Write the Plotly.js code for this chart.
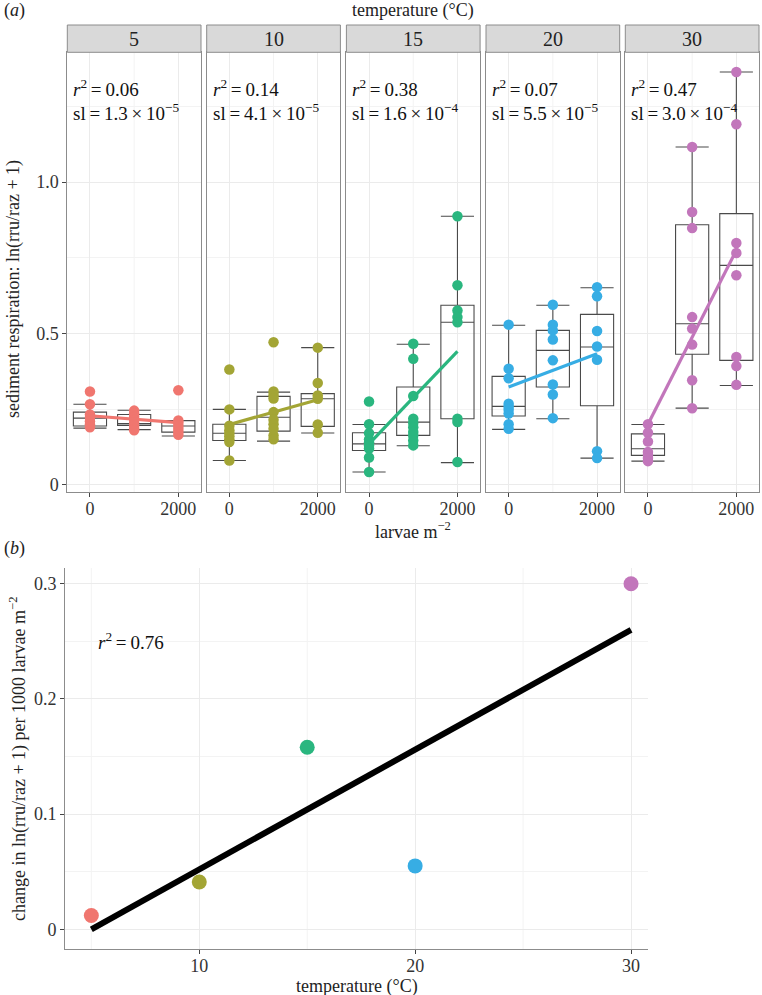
<!DOCTYPE html>
<html>
<head>
<meta charset="utf-8">
<script src="https://cdn.plot.ly/plotly-3.0.1.min.js"></script>
<style>
  body { margin: 0; background: #fff; }
  #chart { width: 762px; height: 995px; }
</style>
</head>
<body>
<div id="chart"></div>
<script>
// panel (a): temperature facets, larvae density on x
const temps = [5, 10, 15, 20, 30];
const larvae = [0, 1000, 2000];

// points, one list per larvae density
const resp5 = [
    [0.308, 0.266, 0.232, 0.222, 0.21, 0.2, 0.19],
    [0.245, 0.235, 0.225, 0.215, 0.205, 0.195, 0.185, 0.18],
    [0.312, 0.212, 0.205, 0.195, 0.185, 0.175, 0.165]
];
const resp10 = [
    [0.381, 0.249, 0.195, 0.18, 0.17, 0.16, 0.15, 0.141, 0.08],
    [0.471, 0.308, 0.296, 0.285, 0.24, 0.215, 0.2, 0.185, 0.163, 0.15],
    [0.453, 0.336, 0.295, 0.284, 0.199, 0.172]
];
const resp15 = [
    [0.275, 0.2, 0.17, 0.15, 0.14, 0.13, 0.12, 0.09, 0.042],
    [0.466, 0.416, 0.293, 0.218, 0.204, 0.19, 0.174, 0.163, 0.146, 0.13],
    [0.887, 0.659, 0.576, 0.554, 0.537, 0.218, 0.207, 0.075]
];
const resp20 = [
    [0.529, 0.383, 0.352, 0.268, 0.258, 0.248, 0.235, 0.2, 0.185],
    [0.595, 0.529, 0.51, 0.48, 0.411, 0.331, 0.298, 0.22],
    [0.653, 0.623, 0.508, 0.457, 0.413, 0.111, 0.088]
];
const resp30 = [
    [0.2, 0.172, 0.143, 0.108, 0.098, 0.088, 0.078],
    [1.116, 0.901, 0.848, 0.554, 0.516, 0.463, 0.345, 0.253],
    [1.364, 1.191, 0.799, 0.766, 0.692, 0.422, 0.392, 0.33]
];

// box stats per facet (0, 1000, 2000)
const boxLow = [[0.187, 0.182, 0.161], [0.08, 0.144, 0.171], [0.042, 0.129, 0.073], [0.183, 0.218, 0.088], [0.078, 0.253, 0.328]];
const boxQ1 = [[0.194, 0.196, 0.174], [0.146, 0.177, 0.193], [0.113, 0.163, 0.218], [0.227, 0.323, 0.261], [0.097, 0.431, 0.411]];
const boxMed = [[0.22, 0.202, 0.194], [0.17, 0.223, 0.284], [0.135, 0.207, 0.537], [0.259, 0.444, 0.455], [0.119, 0.532, 0.725]];
const boxQ3 = [[0.24, 0.232, 0.212], [0.2, 0.292, 0.301], [0.172, 0.323, 0.593], [0.358, 0.51, 0.563], [0.168, 0.859, 0.896]];
const boxHigh = [[0.266, 0.246, 0.212], [0.249, 0.306, 0.453], [0.199, 0.464, 0.887], [0.527, 0.593, 0.651], [0.199, 1.116, 1.364]];

// fitted lines, value at 0 and at 2000 larvae
const fitStart = [0.228, 0.199, 0.135, 0.323, 0.2];
const fitEnd = [0.205, 0.281, 0.441, 0.433, 0.775];
const r2Labels = ['0.06', '0.14', '0.38', '0.07', '0.47'];
const slMantissa = ['1.3', '4.1', '1.6', '5.5', '3.0'];
const slExponent = ['\u22125', '\u22125', '\u22124', '\u22125', '\u22124'];

// panel (b): slope vs temperature
const rateChange = [0.012, 0.041, 0.158, 0.055, 0.3];
const fitTemps = [5, 30];
const fitRate = [0, 0.26];

const colors = ['#F0766F', '#A3A535', '#2AB67F', '#37ADE4', '#C276BB'];
const respAll = [resp5, resp10, resp15, resp20, resp30];

const W = 762, H = 995;
const serif = '"Liberation Serif", "Times New Roman", serif';
const px = v => v / W;
const py = v => 1 - v / H;

const facetLeft = [67.3, 206.7, 346.4, 486, 625.3];
const facetWidth = 133.7;
const panelTop = 52.3, panelBottom = 492.3, stripTop = 25;
const border = '#8c8c8c';
const minorGrid = '#f3f3f3';
const tickFont = { family: serif, size: 18, color: '#333' };
const noteFont = { family: serif, size: 19, color: '#111' };

const data = [];
const layout = {
    width: W, height: H,
    margin: { l: 0, r: 0, t: 0, b: 0 },
    paper_bgcolor: '#fff',
    plot_bgcolor: 'rgba(0,0,0,0)',
    showlegend: false,
    font: { family: serif, color: '#222', size: 17 },
    boxmode: 'overlay',
    shapes: [],
    annotations: []
};

function vGrid(xa, ya, x) {
    layout.shapes.push({
        type: 'line', xref: xa, yref: ya + ' domain', layer: 'below',
        x0: x, x1: x, y0: 0, y1: 1,
        line: { color: minorGrid, width: 1 }
    });
}

temps.forEach((t, i) => {
    const n = i === 0 ? '' : String(i + 1);
    const xa = 'x' + n, ya = 'y' + n;

    // tick marks come from the minor ticks so labels sit close to the axis
    layout['xaxis' + n] = {
        domain: [px(facetLeft[i]), px(facetLeft[i] + facetWidth)],
        anchor: ya,
        range: [-512.5, 2512.5],
        tickvals: [0, 2000],
        ticktext: ['0', '2000'],
        ticks: '',
        tickfont: tickFont,
        showgrid: true, gridcolor: '#ebebeb', gridwidth: 1,
        minor: { tickvals: [0, 2000], ticks: 'outside', ticklen: 4, tickcolor: '#444', showgrid: false },
        zeroline: false,
        showline: true, mirror: true, linecolor: border, linewidth: 1
    };
    vGrid(xa, ya, 1000);
    layout['yaxis' + n] = {
        domain: [py(panelBottom), py(panelTop)],
        anchor: xa,
        range: [-0.025, 1.429],
        tickvals: [0, 0.5, 1],
        ticktext: ['0', '0.5', '1.0'],
        ticks: i === 0 ? 'outside' : '', ticklen: 4, tickcolor: '#444',
        showticklabels: i === 0,
        tickfont: tickFont,
        showgrid: true, gridcolor: '#ebebeb', gridwidth: 1,
        minor: { tickvals: [0.25, 0.75, 1.25], showgrid: true, gridcolor: minorGrid, ticks: '' },
        zeroline: false,
        showline: true, mirror: true, linecolor: border, linewidth: 1
    };

    data.push({
        type: 'box', xaxis: xa, yaxis: ya,
        x: larvae,
        lowerfence: boxLow[i], q1: boxQ1[i], median: boxMed[i], q3: boxQ3[i], upperfence: boxHigh[i],
        width: 750, whiskerwidth: 1,
        boxpoints: false,
        fillcolor: 'rgba(255,255,255,0)',
        line: { color: '#4a4a4a', width: 1.1 },
        hoverinfo: 'skip'
    });

    const xs = [], ys = [];
    respAll[i].forEach((vals, j) => {
        vals.forEach(v => { xs.push(larvae[j]); ys.push(v); });
    });
    data.push({
        type: 'scatter', mode: 'markers', xaxis: xa, yaxis: ya,
        x: xs, y: ys,
        marker: { color: colors[i], size: 10.5 },
        hoverinfo: 'skip'
    });

    data.push({
        type: 'scatter', mode: 'lines', xaxis: xa, yaxis: ya,
        x: [larvae[0], larvae[2]], y: [fitStart[i], fitEnd[i]],
        line: { color: colors[i], width: 3.2 },
        hoverinfo: 'skip'
    });

    // strip header
    layout.shapes.push({
        type: 'rect', xref: 'paper', yref: 'paper',
        x0: px(facetLeft[i]), x1: px(facetLeft[i] + facetWidth),
        y0: py(panelTop), y1: py(stripTop),
        fillcolor: '#d9d9d9', line: { color: border, width: 1 }
    });
    layout.annotations.push({
        xref: 'paper', yref: 'paper',
        x: px(facetLeft[i] + facetWidth / 2), y: py((stripTop + panelTop) / 2),
        text: String(t), showarrow: false,
        font: { family: serif, size: 20, color: '#222' },
        xanchor: 'center', yanchor: 'middle'
    });

    layout.annotations.push({
        xref: 'paper', yref: 'paper',
        x: px(facetLeft[i] + 4), y: py(88),
        text: '<i>r</i><sup>2</sup>\u2009=\u2009' + r2Labels[i],
        showarrow: false, xanchor: 'left', yanchor: 'middle',
        font: noteFont
    });
    layout.annotations.push({
        xref: 'paper', yref: 'paper',
        x: px(facetLeft[i] + 4), y: py(112),
        text: 'sl\u2009=\u2009' + slMantissa[i] + '\u2009\u00d7\u200910<sup>' + slExponent[i] + '</sup>',
        showarrow: false, xanchor: 'left', yanchor: 'middle',
        font: noteFont
    });
});

// panel (b)
layout.xaxis6 = {
    domain: [px(65), px(648.3)],
    anchor: 'y6',
    range: [3.78, 30.8],
    tickvals: [10, 20, 30],
    ticks: '',
    tickfont: tickFont,
    showgrid: true, gridcolor: '#ebebeb',
    minor: { tickvals: [10, 20, 30], ticks: 'outside', ticklen: 4, tickcolor: '#444', showgrid: false },
    zeroline: false,
    showline: true, linecolor: border, linewidth: 1
};
[5, 15, 25].forEach(v => vGrid('x6', 'y6', v));
layout.yaxis6 = {
    domain: [py(949.3), py(568)],
    anchor: 'x6',
    range: [-0.0174, 0.3137],
    tickvals: [0, 0.1, 0.2, 0.3],
    ticktext: ['0', '0.1', '0.2', '0.3'],
    ticks: 'outside', ticklen: 4, tickcolor: '#444',
    tickfont: tickFont,
    showgrid: true, gridcolor: '#ebebeb',
    minor: { tickvals: [0.05, 0.15, 0.25], showgrid: true, gridcolor: minorGrid, ticks: '' },
    zeroline: false,
    showline: true, linecolor: border, linewidth: 1
};

data.push({
    type: 'scatter', mode: 'lines', xaxis: 'x6', yaxis: 'y6',
    x: fitTemps, y: fitRate,
    line: { color: '#000', width: 6 },
    hoverinfo: 'skip'
});
data.push({
    type: 'scatter', mode: 'markers', xaxis: 'x6', yaxis: 'y6',
    x: temps, y: rateChange,
    marker: { color: colors, size: 15 },
    hoverinfo: 'skip'
});

const titleFont = { family: serif, size: 18, color: '#222' };
layout.annotations.push(
    { xref: 'paper', yref: 'paper', x: px(2), y: py(11), xanchor: 'left', yanchor: 'middle',
      text: '(<i>a</i>)', showarrow: false, font: titleFont },
    { xref: 'paper', yref: 'paper', x: px(413), y: py(11), xanchor: 'center', yanchor: 'middle',
      text: 'temperature (\u00b0C)', showarrow: false, font: titleFont },
    { xref: 'paper', yref: 'paper', x: px(413), y: py(530), xanchor: 'center', yanchor: 'middle',
      text: 'larvae m<sup>\u22122</sup>', showarrow: false, font: titleFont },
    { xref: 'paper', yref: 'paper', x: px(13), y: py(289), xanchor: 'center', yanchor: 'middle',
      text: 'sediment respiration: ln(rru/raz + 1)', textangle: -90, showarrow: false, font: titleFont },
    { xref: 'paper', yref: 'paper', x: px(2), y: py(548), xanchor: 'left', yanchor: 'middle',
      text: '(<i>b</i>)', showarrow: false, font: titleFont },
    { xref: 'paper', yref: 'paper', x: px(357), y: py(986), xanchor: 'center', yanchor: 'middle',
      text: 'temperature (\u00b0C)', showarrow: false, font: titleFont },
    { xref: 'paper', yref: 'paper', x: px(18), y: py(759), xanchor: 'center', yanchor: 'middle',
      text: 'change in ln(rru/raz + 1) per 1000 larvae m<sup>\u22122</sup>', textangle: -90,
      showarrow: false, font: titleFont },
    { xref: 'paper', yref: 'paper', x: px(96), y: py(641), xanchor: 'left', yanchor: 'middle',
      text: '<i>r</i><sup>2</sup>\u2009=\u20090.76', showarrow: false, font: noteFont }
);

Plotly.newPlot('chart', data, layout, { staticPlot: true });
</script>
</body>
</html>
